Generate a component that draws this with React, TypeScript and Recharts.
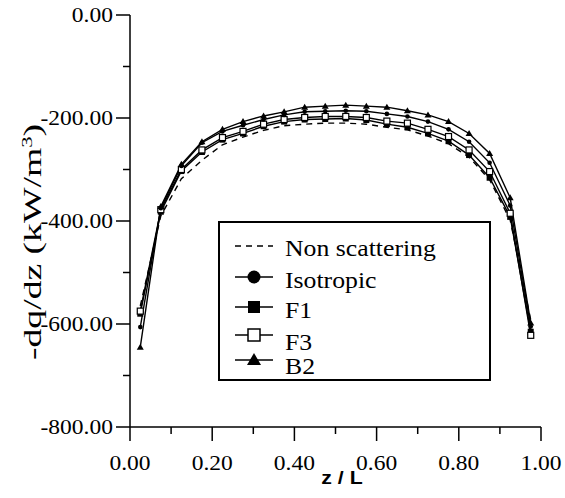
import React from 'react';
import { LineChart, Line, XAxis, YAxis, Customized } from 'recharts';

const zValues = [0.025, 0.075, 0.125, 0.175, 0.225, 0.275, 0.325, 0.375, 0.425, 0.475, 0.525, 0.575, 0.625, 0.675, 0.725, 0.775, 0.825, 0.875, 0.925, 0.975];
const nonScattering = [-565, -390, -318, -282, -252, -237, -224, -215, -212, -210, -210, -212, -218, -223, -235, -250, -276, -320, -398, -592];
const isotropic = [-606, -375, -293, -248, -226, -214, -203, -194, -188, -187, -186, -187, -192, -197, -207, -222, -246, -287, -370, -605];
const f1 = [-580, -382, -303, -266, -242, -230, -216, -207, -203, -202, -201, -204, -212, -218, -230, -245, -272, -316, -392, -615];
const f3 = [-575, -378, -300, -262, -238, -226, -212, -203, -199, -197, -197, -199, -206, -210, -222, -236, -262, -304, -385, -622];
const b2 = [-645, -372, -290, -246, -222, -207, -196, -188, -179, -177, -175, -177, -179, -186, -194, -207, -230, -269, -355, -598];

const xTickValues = [0, 0.1, 0.2, 0.3, 0.4, 0.5, 0.6, 0.7, 0.8, 0.9, 1.0];
const yTickValues = [-800, -700, -600, -500, -400, -300, -200, -100, 0];
const seriesNames = ['Non scattering', 'Isotropic', 'F1', 'F3', 'B2'];
const xAxisTitle = 'z / L';

const data = zValues.map((z, i) => ({
  z,
  ns: nonScattering[i],
  iso: isotropic[i],
  f1: f1[i],
  f3: f3[i],
  b2: b2[i],
}));

const SERIF = "Liberation Serif, Tinos, Times New Roman, Times, serif";
const SANS = "Liberation Sans, Arimo, Arial, sans-serif";
const SX = 1.12;

function StretchText(props: any) {
  const { x, y, anchor, size, family, weight, children } = props;
  return (
    <text
      transform={`translate(${x},${y}) scale(${SX},1)`}
      x={0}
      y={0}
      textAnchor={anchor}
      style={{ fontFamily: family || SERIF, fontSize: size, fontWeight: weight || 'normal' }}
      fill="#000"
    >
      {children}
    </text>
  );
}

const XTick = (props: any) => {
  const { x, y, payload } = props;
  const v = payload.value;
  const major = Math.round(v * 10) % 2 === 0;
  return (
    <g>
      <line x1={x} y1={y} x2={x} y2={y + (major ? 14 : 7)} stroke="#000" strokeWidth={1.5} />
      {major && (
        <StretchText x={x} y={y + 43} anchor="middle" size={21}>
          {v.toFixed(2)}
        </StretchText>
      )}
    </g>
  );
};

const YTick = (props: any) => {
  const { x, y, payload } = props;
  const v = payload.value;
  const major = Math.round(v / 100) % 2 === 0;
  return (
    <g>
      <line x1={x} y1={y} x2={x - (major ? 14 : 7)} y2={y} stroke="#000" strokeWidth={1.5} />
      {major && (
        <StretchText x={x - 17} y={y + 7} anchor="end" size={21}>
          {v.toFixed(2)}
        </StretchText>
      )}
    </g>
  );
};

const CircleDot = (p: any) =>
  p.cx == null ? <g key={p.key} /> : <circle key={p.key} cx={p.cx} cy={p.cy} r={2.3} fill="#000" />;
const SquareDot = (p: any) =>
  p.cx == null ? <g key={p.key} /> : <rect key={p.key} x={p.cx - 3} y={p.cy - 3} width={6} height={6} fill="#000" />;
const OpenSquareDot = (p: any) =>
  p.cx == null ? <g key={p.key} /> : (
    <rect key={p.key} x={p.cx - 3} y={p.cy - 3} width={6} height={6} fill="#fff" stroke="#000" strokeWidth={1.2} />
  );
const TriDot = (p: any) =>
  p.cx == null ? <g key={p.key} /> : (
    <polygon key={p.key} points={`${p.cx},${p.cy - 3.5} ${p.cx - 3.5},${p.cy + 2.5} ${p.cx + 3.5},${p.cy + 2.5}`} fill="#000" />
  );

const Decorations = () => {
  const lx1 = 235;
  const lx2 = 273;
  const mx = 254;
  const tx = 285;
  const rows = [
    { sy: 246, ty: 256 },
    { sy: 277, ty: 288 },
    { sy: 307, ty: 318 },
    { sy: 335, ty: 350 },
    { sy: 360, ty: 374 },
  ];
  return (
    <g>
      <rect x={219} y={222} width={271} height={158} fill="#fff" stroke="#000" strokeWidth={2} />
      <line x1={lx1} y1={rows[0].sy} x2={lx2} y2={rows[0].sy} stroke="#000" strokeWidth={1.5} strokeDasharray="6 5" />
      <line x1={lx1} y1={rows[1].sy} x2={lx2} y2={rows[1].sy} stroke="#000" strokeWidth={1.5} />
      <circle cx={mx} cy={rows[1].sy} r={6.5} fill="#000" />
      <line x1={lx1} y1={rows[2].sy} x2={lx2} y2={rows[2].sy} stroke="#000" strokeWidth={1.5} />
      <rect x={mx - 6} y={rows[2].sy - 6} width={12} height={12} fill="#000" />
      <line x1={lx1} y1={rows[3].sy} x2={lx2} y2={rows[3].sy} stroke="#000" strokeWidth={1.5} />
      <rect x={mx - 6} y={rows[3].sy - 6} width={12} height={12} fill="#fff" stroke="#000" strokeWidth={1.5} />
      <line x1={lx1} y1={rows[4].sy} x2={lx2} y2={rows[4].sy} stroke="#000" strokeWidth={1.5} />
      <polygon points={`${mx},${rows[4].sy - 7} ${mx - 7},${rows[4].sy + 5} ${mx + 7},${rows[4].sy + 5}`} fill="#000" />
      {seriesNames.map((name, i) => (
        <StretchText key={name} x={tx} y={rows[i].ty} anchor="start" size={23}>
          {name}
        </StretchText>
      ))}
      <StretchText x={342} y={484} anchor="middle" size={19} family={SANS} weight="bold">
        {xAxisTitle}
      </StretchText>
      <text
        transform="translate(41,242) rotate(-90)"
        textAnchor="middle"
        style={{ fontFamily: SERIF, fontSize: 25 }}
        textLength={236}
        lengthAdjust="spacingAndGlyphs"
        fill="#000"
      >
        -dq/dz (kW/m<tspan dy={-9} style={{ fontSize: 15 }}>3</tspan>
        <tspan dy={9}>)</tspan>
      </text>
    </g>
  );
};

export default function App() {
  return (
    <div style={{ position: 'absolute', left: 0, top: 0, background: '#fff', fontFamily: SERIF }}>
      <LineChart width={565} height={498} data={data} margin={{ top: 15, right: 24, bottom: 0, left: 0 }}>
        <XAxis
          dataKey="z"
          type="number"
          domain={[0, 1]}
          ticks={xTickValues}
          interval={0}
          height={71}
          tickSize={0}
          tickMargin={0}
          tickLine={false}
          axisLine={{ stroke: '#000', strokeWidth: 1.5 }}
          tick={<XTick />}
        />
        <YAxis
          type="number"
          domain={[-800, 0]}
          ticks={yTickValues}
          interval={0}
          width={130}
          tickSize={0}
          tickMargin={0}
          tickLine={false}
          axisLine={{ stroke: '#000', strokeWidth: 1.5 }}
          tick={<YTick />}
        />
        <Line dataKey="ns" stroke="#000" strokeWidth={1.4} strokeDasharray="6 5" dot={false} isAnimationActive={false} />
        <Line dataKey="f1" stroke="#000" strokeWidth={1.4} dot={SquareDot} isAnimationActive={false} />
        <Line dataKey="f3" stroke="#000" strokeWidth={1.4} dot={OpenSquareDot} isAnimationActive={false} />
        <Line dataKey="iso" stroke="#000" strokeWidth={1.4} dot={CircleDot} isAnimationActive={false} />
        <Line dataKey="b2" stroke="#000" strokeWidth={1.4} dot={TriDot} isAnimationActive={false} />
        <Customized component={Decorations} />
      </LineChart>
    </div>
  );
}
